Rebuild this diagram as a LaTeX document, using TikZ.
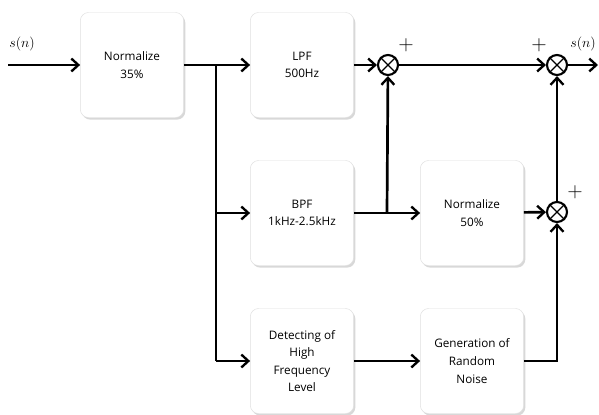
\documentclass[tikz,border=0pt]{standalone}
\usepackage{fontspec}
\setmainfont{Open Sans}
\usetikzlibrary{arrows.meta,shadows}
\tikzset{
	block/.style={draw=gray!25, fill=white, rounded corners=7pt, minimum width=3.1cm, minimum height=3.15cm, align=center, font=\fontsize{10}{15}\selectfont, drop shadow={shadow xshift=1.4pt, shadow yshift=-1.8pt, fill=gray!60}},
	sumnode/.style={draw, circle, line width=1.8pt, minimum size=0.6cm, inner sep=0pt},
	arr/.style={line width=2.3pt, -{Straight Barb[length=6pt,width=11pt,line width=2pt]}},
	wire/.style={line width=2.3pt},
	plus/.style={font=\fontsize{18}{18}\selectfont\sffamily, inner sep=0pt},
	signal/.style={font=\large, inner sep=0pt},
}
\begin{document}
\begin{tikzpicture}[x=0.03cm, y=-0.03cm]
		\useasboundingbox (0,0) rectangle (599,414);

		\node[block] (norma) at (132,65) {Normalize\\35\%};
		\node[block] (lpf) at (302,65) {LPF\\500Hz};
		\node[block] (bpf) at (302,213) {BPF\\1kHz-2.5kHz};
		\node[block] (normb) at (472,213) {Normalize\\50\%};
		\node[block] (detect) at (302,361) {Detecting of\\High\\Frequency\\Level};
		\node[block] (noise) at (472,361) {Generation of\\Random\\Noise};

		\node[sumnode] (suma) at (388,65) {};
		\node[sumnode] (sumb) at (557,65) {};
		\node[sumnode] (sumc) at (557,212) {};
		\foreach \s in {suma,sumb,sumc}
			\draw[line width=1.1pt] (\s.north east) -- (\s.south west) (\s.north west) -- (\s.south east);

		\coordinate (in) at (8,65);
		\coordinate (out) at (598,65);
		\coordinate (split) at (216,65);
		\coordinate (tap) at (387,212);

		\node[signal] (sin) at (22,44) {$s(n)$};
		\node[signal] (sout) at (583,44) {$s(n)$};
		\node[plus] (pa) at (406,45) {+};
		\node[plus] (pb) at (539,45) {+};
		\node[plus] (pc) at (575,192) {+};

		\draw[arr] (in) -- (norma);
		\draw[arr] (norma) -- (lpf);
		\draw[wire] (split) -- (split |- detect);
		\draw[arr] (split |- bpf) -- (bpf);
		\draw[arr] (split |- detect) -- (detect);
		\draw[arr] (lpf) -- (suma);
		\draw[arr] (bpf) -- (normb);
		\draw[arr] (tap) -- (suma);
		\draw[arr] (suma) -- (sumb);
		\draw[arr] (normb) -- (sumc);
		\draw[arr] (sumc) -- (sumb);
		\draw[arr] (detect) -- (noise);
		\draw[arr] (noise) -| (sumc);
		\draw[arr] (sumb) -- (out);
\end{tikzpicture}
\end{document}
